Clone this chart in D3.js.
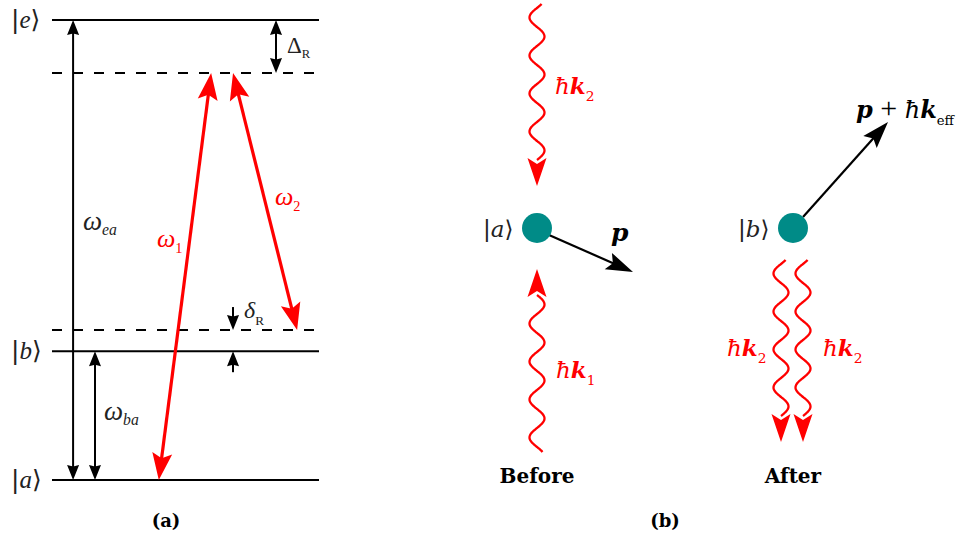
<!DOCTYPE html>
<html><head><meta charset="utf-8">
<script src="https://cdn.jsdelivr.net/npm/d3@7"></script>
<style>body{margin:0;background:#fff}svg{display:block}</style>
</head><body>
<svg id="c" width="956" height="535"></svg>
<script>
// ---------- data ----------
// Panel (a): energy levels (relative units, |a> = 0, |e> = 1)
const levelNames = ["a", "b", "e"];
const levelEnergies = [0, 0.28, 1];
// virtual (detuned) levels: lower (b + deltaR), upper (e - DeltaR)
const virtualNames = ["b+δR", "e−ΔR"];
const virtualEnergies = [0.326, 0.885];
// Raman beams: [from energy, to energy]
const ramanNames = ["ω1", "ω2"];
const ramanFrom = [0, 0.885];
const ramanTo = [0.885, 0.326];
// Panel (b): photon momenta labels
const beforeLabels = ["ħk2", "ħk1"];
const afterLabels = ["ħk2", "ħk2"];
const stageNames = ["Before", "After"];
const panelNames = ["(a)", "(b)"];

// ---------- helpers ----------
const svg = d3.select("#c");
const RED = "#ff0000";
const SERIF_A = "Liberation Serif, DejaVu Serif, serif";
const SERIF_B = "DejaVu Serif, Liberation Serif, serif";

function head(g, x, y, angleDeg, len, wid, notch, color) {
  const p = d3.path();
  p.moveTo(0, 0); p.lineTo(-len, wid / 2); p.lineTo(-len + notch, 0); p.lineTo(-len, -wid / 2); p.closePath();
  g.append("path").attr("d", p.toString()).attr("fill", color)
    .attr("transform", `translate(${x},${y}) rotate(${angleDeg})`);
}
function arrow(g, x1, y1, x2, y2, o) {
  const dx = x2 - x1, dy = y2 - y1, L = Math.hypot(dx, dy), ux = dx / L, uy = dy / L;
  const ang = Math.atan2(dy, dx) * 180 / Math.PI;
  const cut = o.len * 0.6;
  const sx = o.both ? x1 + ux * cut : x1, sy = o.both ? y1 + uy * cut : y1;
  g.append("line").attr("x1", sx).attr("y1", sy).attr("x2", x2 - ux * cut).attr("y2", y2 - uy * cut)
    .attr("stroke", o.color).attr("stroke-width", o.sw);
  head(g, x2, y2, ang, o.len, o.wid, o.notch, o.color);
  if (o.both) head(g, x1, y1, ang + 180, o.len, o.wid, o.notch, o.color);
}
function rich(g, x, y, parts, size, color, family, anchor) {
  const t = g.append("text").attr("x", x).attr("y", y).attr("font-size", size)
    .attr("fill", color).attr("font-family", family).attr("text-anchor", anchor || "start");
  let shift = 0;
  parts.forEach(p => {
    const s = t.append("tspan").text(p.t);
    const target = p.sub ? size * (p.drop || 0.28) : 0;
    s.attr("dy", target - shift); shift = target;
    if (p.sub) s.attr("font-size", size * (p.scale || 0.55));
    if (p.size) s.attr("font-size", p.size);
    if (p.i) s.attr("font-style", "italic");
    if (p.b) s.attr("font-weight", "bold");
    if (p.f) s.attr("font-family", p.f);
    if (p.dx) s.attr("dx", p.dx);
  });
  return t;
}
function ket(g, x, y, name, size, color, family) {
  return rich(g, x, y, [{ t: "|", f: "DejaVu Sans, sans-serif", },
    { t: name, i: true }, { t: "⟩", f: "DejaVu Sans, sans-serif" }], size, color, family);
}
function wave(g, cx, yStart, yEnd, amp, period, color) {
  const n = 240;
  const pts = d3.range(n + 1).map(i => {
    const y = yStart + (yEnd - yStart) * i / n;
    return [cx + amp * Math.sin(2 * Math.PI * Math.abs(yEnd - y) / period), y];
  });
  g.append("path").attr("d", d3.line().curve(d3.curveBasis)(pts))
    .attr("fill", "none").attr("stroke", color).attr("stroke-width", 2.3);
}

// ---------- panel (a) ----------
const gA = svg.append("g");
const yA = d3.scaleLinear().domain([0, 1]).range([480, 20]);
const xA = d3.scaleLinear().domain([0, 1]).range([52, 319]);

levelEnergies.forEach((E, i) => {
  gA.append("line").attr("x1", xA(0)).attr("x2", xA(1)).attr("y1", yA(E)).attr("y2", yA(E))
    .attr("stroke", "#000").attr("stroke-width", 2);
  ket(gA, 11, yA(E) + 8, levelNames[i], 25, "#222", SERIF_A);
});
virtualEnergies.forEach(E => {
  gA.append("line").attr("x1", xA(0)).attr("x2", xA(1)).attr("y1", yA(E)).attr("y2", yA(E))
    .attr("stroke", "#000").attr("stroke-width", 2).attr("stroke-dasharray", "10,11");
});
const blk = { color: "#000", sw: 2, len: 15, wid: 12, notch: 1.5, both: true };
// omega_ea
arrow(gA, xA(0.079), yA(levelEnergies[0]), xA(0.079), yA(levelEnergies[2]), blk);
rich(gA, 83, 230, [{ t: "ω", i: true }, { t: "ea", i: true, sub: true, scale: 0.58, drop: 0.18 }], 27, "#222", SERIF_A);
// omega_ba
arrow(gA, xA(0.161), yA(levelEnergies[0]), xA(0.161), yA(levelEnergies[1]), blk);
rich(gA, 104, 420, [{ t: "ω", i: true }, { t: "ba", i: true, sub: true, scale: 0.58, drop: 0.18 }], 27, "#222", SERIF_A);
// Delta_R
arrow(gA, xA(0.839), yA(levelEnergies[2]), xA(0.839), yA(virtualEnergies[1]), blk);
rich(gA, 287, 53, [{ t: "Δ" }, { t: "R", sub: true, scale: 0.55, drop: 0.22 }], 23, "#222", SERIF_A);
// delta_R (outside arrows)
const dxR = xA(0.678);
arrow(gA, dxR, yA(virtualEnergies[0]) - 23, dxR, yA(virtualEnergies[0]), { ...blk, both: false });
arrow(gA, dxR, yA(levelEnergies[1]) + 21, dxR, yA(levelEnergies[1]), { ...blk, both: false });
rich(gA, 244, 318, [{ t: "δ", i: true }, { t: "R", sub: true, scale: 0.55, drop: 0.3 }], 24, "#222", SERIF_A);
// Raman beams
const redArrow = { color: RED, sw: 3.2, len: 27, wid: 20, notch: 5, both: true };
const ramanX = [[0.40, 0.596], [0.678, 0.918]];
ramanNames.forEach((nm, i) => {
  arrow(gA, xA(ramanX[i][0]), yA(ramanFrom[i]), xA(ramanX[i][1]), yA(ramanTo[i]), redArrow);
});
rich(gA, 157, 247, [{ t: "ω", i: true }, { t: "1", sub: true, scale: 0.55, drop: 0.22 }], 26, RED, SERIF_A);
rich(gA, 275, 205, [{ t: "ω", i: true }, { t: "2", sub: true, scale: 0.55, drop: 0.22 }], 26, RED, SERIF_A);
rich(gA, 166, 527, [{ t: panelNames[0], b: true }], 18, "#000", SERIF_B, "middle");

// ---------- panel (b) ----------
const gB = svg.append("g");
const atomY = 228, atomR = 15;
const stageX = [537, 793];
const TEAL = "#008b87";
const redHead = { len: 28, wid: 19, notch: 6 };
function hk(g, x, y, sub) {
  return rich(g, x, y, [{ t: "ħ", i: true }, { t: "k", i: true, b: true },
    { t: sub, sub: true, scale: 0.6, drop: 0.3 }], 23, RED, SERIF_B);
}
// Before
wave(gB, stageX[0], 4, 160, 7.5, 38, RED);
head(gB, stageX[0], 186, 90, redHead.len, redHead.wid, redHead.notch, RED);
hk(gB, 555, 94, beforeLabels[0].slice(2));
wave(gB, stageX[0], 452, 295, 7.5, 38, RED);
head(gB, stageX[0], 269, -90, redHead.len, redHead.wid, redHead.notch, RED);
hk(gB, 556, 378, beforeLabels[1].slice(2));
arrow(gB, 549, 235, 633, 272, { color: "#000", sw: 2.2, len: 27, wid: 18, notch: 5, both: false });
gB.append("circle").attr("cx", stageX[0]).attr("cy", atomY).attr("r", atomR).attr("fill", TEAL);
ket(gB, 483, 237, "a", 23, "#222", SERIF_B);
rich(gB, 611, 241, [{ t: "p", i: true, b: true }], 25, "#000", SERIF_B);
rich(gB, stageX[0], 483, [{ t: stageNames[0], b: true }], 20, "#000", SERIF_B, "middle");

// After
arrow(gB, 803, 217, 888, 122, { color: "#000", sw: 2.2, len: 27, wid: 18, notch: 5, both: false });
gB.append("circle").attr("cx", stageX[1]).attr("cy", atomY).attr("r", atomR).attr("fill", TEAL);
ket(gB, 738, 237, "b", 23, "#222", SERIF_B);
rich(gB, 856, 118, [{ t: "p", i: true, b: true }, { t: " + ", f: SERIF_A, size: 30 }, { t: "ħ", i: true },
  { t: "k", i: true, b: true }, { t: "eff", sub: true, scale: 0.55, drop: 0.3 }], 24, "#000", SERIF_B);
const afterX = [781, 803];
afterX.forEach(x => {
  wave(gB, x, 260, 416, 7.5, 38, RED);
  head(gB, x, 442, 90, redHead.len, redHead.wid, redHead.notch, RED);
});
hk(gB, 727, 356, afterLabels[0].slice(2));
hk(gB, 823, 356, afterLabels[1].slice(2));
rich(gB, stageX[1], 483, [{ t: stageNames[1], b: true }], 20, "#000", SERIF_B, "middle");
rich(gB, 665, 527, [{ t: panelNames[1], b: true }], 18, "#000", SERIF_B, "middle");
</script>
</body></html>
